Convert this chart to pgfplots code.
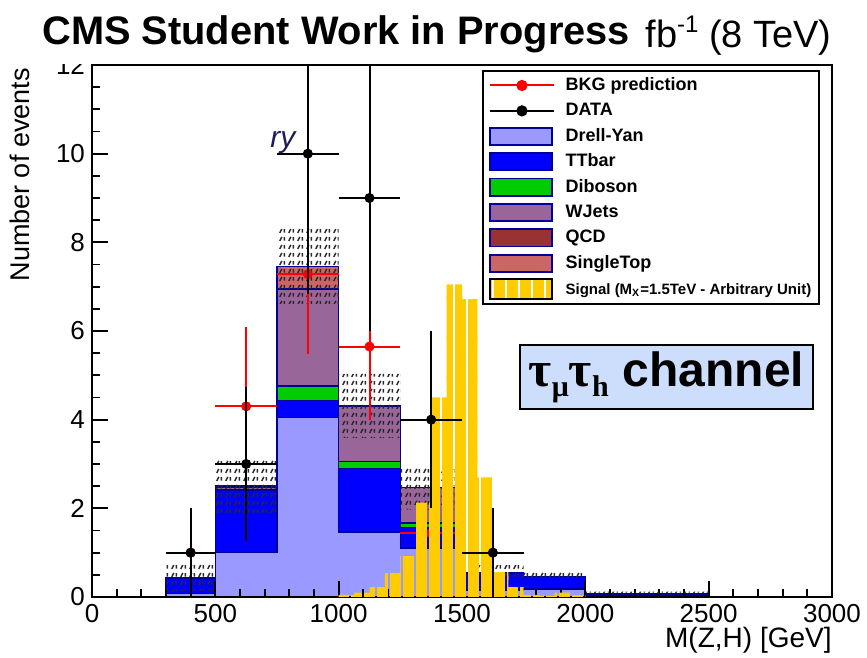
\documentclass[border=0pt]{standalone}
\usepackage{fontspec}
\setmainfont{Liberation Sans}
\newfontfamily\greekserif{Liberation Serif}
\usepackage{pgfplots}
\pgfplotsset{compat=1.18}
\usetikzlibrary{patterns}

\definecolor{dycol}{RGB}{153,153,255}
\definecolor{ttcol}{RGB}{0,0,255}
\definecolor{dibcol}{RGB}{0,204,0}
\definecolor{wjcol}{RGB}{153,102,153}
\definecolor{qcdcol}{RGB}{153,51,51}
\definecolor{stcol}{RGB}{204,102,102}
\definecolor{edgecol}{RGB}{0,0,153}
\definecolor{sigcol}{RGB}{255,204,0}
\definecolor{chanbox}{RGB}{205,222,252}
\definecolor{hatchcol}{RGB}{40,40,40}
\definecolor{rytext}{RGB}{30,30,90}

% uncertainty hatch: short slashes and bars
\pgfdeclarepatternformonly{mchatch}{\pgfpointorigin}{\pgfqpoint{4.5pt}{4pt}}{\pgfqpoint{4.5pt}{4pt}}{%
  \pgfsetlinewidth{0.8pt}%
  \pgfpathmoveto{\pgfqpoint{0.4pt}{0.6pt}}\pgfpathlineto{\pgfqpoint{1.6pt}{2.9pt}}%
  \pgfpathmoveto{\pgfqpoint{3.0pt}{0.8pt}}\pgfpathlineto{\pgfqpoint{3.0pt}{2.7pt}}%
  \pgfusepath{stroke}}

% signal fill: wide vertical stripes with thin see-through gaps
% (cells overlap vertically so no seams show between them)
\pgfdeclarepatternformonly{sigstripes}{\pgfqpoint{0pt}{-1pt}}{\pgfqpoint{6.5pt}{21pt}}{\pgfqpoint{6.5pt}{20pt}}{%
  \pgfpathrectangle{\pgfqpoint{0pt}{-1pt}}{\pgfqpoint{5.4pt}{22pt}}%
  \pgfusepath{fill}}

\pgfplotsset{
  histframe/.style={
    scale only axis, width=370pt, height=266pt,
    xmin=0, xmax=3000, ymin=0, ymax=12,
    at={(46pt,30.5pt)}, anchor=south west,
  },
  stackpart/.style={const plot, draw=edgecol, line width=0.75pt, fill=#1},
}

\begin{document}
\begin{tikzpicture}
\useasboundingbox (0,0) rectangle (433.5pt,329pt);

% stacked background histograms (bin edges 0,300,500,750,1000,1250,1500,1750,2000,2500,3000)
\begin{axis}[histframe, hide axis, stack plots=y]
  % Drell-Yan
  \addplot[stackpart=dycol] coordinates {(0,0)(300,0.08)(500,1.0)(750,4.05)(1000,1.47)(1250,1.1)(1500,0.16)(1750,0.18)(2000,0.05)(2500,0)(3000,0)} \closedcycle;
  % TTbar
  \addplot[stackpart=ttcol] coordinates {(0,0)(300,0.35)(500,1.4)(750,0.38)(1000,1.43)(1250,0.47)(1500,0.38)(1750,0.28)(2000,0)(2500,0)(3000,0)} \closedcycle;
  % Diboson
  \addplot[stackpart=dibcol] coordinates {(0,0)(300,0)(500,0.02)(750,0.33)(1000,0.16)(1250,0.1)(1500,0)(1750,0)(2000,0.03)(2500,0)(3000,0)} \closedcycle;
  % WJets
  \addplot[stackpart=wjcol] coordinates {(0,0)(300,0)(500,0.05)(750,2.18)(1000,1.25)(1250,0.8)(1500,0)(1750,0)(2000,0)(2500,0)(3000,0)} \closedcycle;
  % QCD
  \addplot[stackpart=qcdcol] coordinates {(0,0)(300,0)(500,0)(750,0.02)(1000,0)(1250,0)(1500,0)(1750,0)(2000,0)(2500,0)(3000,0)} \closedcycle;
  % SingleTop
  \addplot[stackpart=stcol] coordinates {(0,0)(300,0)(500,0.03)(750,0.5)(1000,0)(1250,0)(1500,0)(1750,0)(2000,0)(2500,0)(3000,0)} \closedcycle;
\end{axis}

\begin{axis}[histframe,
  clip marker paths=true,
  axis line style={line width=1pt},
  tick align=inside, tick pos=left,
  xtick={0,500,...,3000}, ytick={0,2,...,12},
  minor x tick num=4, minor y tick num=3,
  major tick length=8pt, minor tick length=4pt,
  tick style={line width=0.9pt, black},
  tick label style={font=\fontsize{13}{14}\selectfont},
  /pgf/number format/assume math mode=true,
  /pgf/number format/1000 sep={},
  scaled ticks=false,
  legend cell align=left,
  legend style={
    at={(axis cs:1581,11.89)}, anchor=north west,
    draw=black, line width=1pt, fill=white,
    font=\bfseries\fontsize{9}{10}\selectfont,
    inner xsep=3pt, inner ysep=2pt,
    row sep=2.1pt, column sep=4.5pt,
    nodes={inner sep=0.8pt, text height=7pt, text depth=2pt},
  },
]
  % legend entries
  \addlegendimage{legend image code/.code={\draw[red, line width=1pt] (0pt,0pt) -- (32pt,0pt); \fill[red] (16pt,0pt) circle (2.3pt);}}
  \addlegendentry{BKG prediction}
  \addlegendimage{legend image code/.code={\draw[black, line width=1pt] (0pt,0pt) -- (32pt,0pt); \fill[black] (16pt,0pt) circle (2.3pt);}}
  \addlegendentry{DATA}
  \addlegendimage{legend image code/.code={\draw[fill=dycol, draw=edgecol, line width=0.9pt] (0pt,-4.3pt) rectangle (31pt,4.3pt);}}
  \addlegendentry{Drell-Yan}
  \addlegendimage{legend image code/.code={\draw[fill=ttcol, draw=edgecol, line width=0.9pt] (0pt,-4.3pt) rectangle (31pt,4.3pt);}}
  \addlegendentry{TTbar}
  \addlegendimage{legend image code/.code={\draw[fill=dibcol, draw=edgecol, line width=0.9pt] (0pt,-4.3pt) rectangle (31pt,4.3pt);}}
  \addlegendentry{Diboson}
  \addlegendimage{legend image code/.code={\draw[fill=wjcol, draw=edgecol, line width=0.9pt] (0pt,-4.3pt) rectangle (31pt,4.3pt);}}
  \addlegendentry{WJets}
  \addlegendimage{legend image code/.code={\draw[fill=qcdcol, draw=edgecol, line width=0.9pt] (0pt,-4.3pt) rectangle (31pt,4.3pt);}}
  \addlegendentry{QCD}
  \addlegendimage{legend image code/.code={\draw[fill=stcol, draw=edgecol, line width=0.9pt] (0pt,-4.3pt) rectangle (31pt,4.3pt);}}
  \addlegendentry{SingleTop}
  \addlegendimage{legend image code/.code={\fill[pattern=sigstripes, pattern color=sigcol] (0pt,-5pt) rectangle (31pt,5pt);}}
  \addlegendentry{\fontsize{7.5}{9}\selectfont Signal (M\textsubscript{X}=1.5TeV - Arbitrary Unit)}

  % background uncertainty band
  \addplot[forget plot, draw=none, pattern=mchatch, pattern color=hatchcol] coordinates {
    (300,0.73)(500,0.73)(500,3.12)(750,3.12)(750,8.31)(1000,8.31)(1000,5.03)(1250,5.03)
    (1250,2.97)(1500,2.97)(1500,0.72)(1750,0.72)(1750,0.56)(2000,0.56)(2000,0.12)(2500,0.12)
    (2500,0.04)(2000,0.04)(2000,0.36)(1750,0.36)(1500,0.36)(1500,1.97)(1250,1.97)(1250,3.59)
    (1000,3.59)(1000,6.61)(750,6.61)(750,1.88)(500,1.88)(500,0.13)(300,0.13)} -- cycle;

  % background prediction
  \addplot[forget plot, only marks, mark=*, mark size=2.3pt, color=red,
    error bars/.cd, x dir=both, x explicit, y dir=both, y explicit, error mark=none,
    error bar style={line width=1pt, red}] coordinates {
    (400,1.0) +- (100,0.7)
    (625,4.3) +- (125,1.8)
    (875,7.28) +- (125,1.8)
    (1125,5.65) +- (125,1.65)
    (1375,1.44) +- (125,0.77)
    (1625,1.0) +- (125,0.7)};

  % signal, M_X = 1.5 TeV
  \addplot[forget plot, const plot, draw=none, pattern=sigstripes, pattern color=sigcol] coordinates {
    (1000,0.05)(1062.5,0.1)(1125,0.22)(1187.5,0.54)(1250,0.92)(1312.5,2.13)(1375,4.5)(1437.5,7.05)
    (1500,6.72)(1562.5,2.7)(1625,0.56)(1687.5,0.22)(1750,0.05)(1812.5,0.03)(1875,0.1)(1937.5,0.04)(2000,0.04)} \closedcycle;

  % data
  \addplot[forget plot, only marks, mark=*, mark size=2.3pt, color=black,
    error bars/.cd, x dir=both, x explicit, y dir=both, y explicit, error mark=none,
    error bar style={line width=1pt, black}] coordinates {
    (400,1) +- (100,1)
    (625,3) +- (125,1.732)
    (875,10) +- (125,3.162)
    (1125,9) +- (125,3)
    (1375,4) +- (125,2)
    (1625,1) +- (125,1)};

  \node[font=\itshape\fontsize{15}{15}\selectfont, text=rytext] at (axis cs:774,10.25) {ry};

  \node[draw=black, line width=1pt, fill=chanbox, minimum width=146.5pt, minimum height=32pt, inner sep=0pt]
    at (axis cs:2329,4.96)
    {{\greekserif\bfseries\fontsize{25}{28}\selectfont τ\raisebox{-5pt}{\fontsize{15}{15}\selectfont μ}τ\raisebox{-5pt}{\fontsize{15}{15}\selectfont h}}\hspace{7pt}{\bfseries\fontsize{24}{28}\selectfont channel}};
\end{axis}

% header band: covers everything above the frame line on the left
\fill[white] (0pt,297pt) rectangle (320pt,329pt);
\node[anchor=base west, inner sep=0pt, font=\bfseries\fontsize{19.9}{20}\selectfont] at (21pt,306.5pt) {CMS Student Work in Progress};
\node[anchor=base east, inner sep=0pt, font=\fontsize{19}{20}\selectfont] at (416pt,305pt) {fb\raisebox{7.5pt}{\fontsize{12}{12}\selectfont -1} (8 TeV)};

% axis titles
\node[anchor=base east, inner sep=0pt, font=\fontsize{14}{15}\selectfont] at (416pt,5pt) {M(Z,H) [GeV]};
\node[rotate=90, anchor=base east, inner sep=0pt, font=\fontsize{13.5}{14}\selectfont] at (14.5pt,295pt) {Number of events};
\end{tikzpicture}
\end{document}
